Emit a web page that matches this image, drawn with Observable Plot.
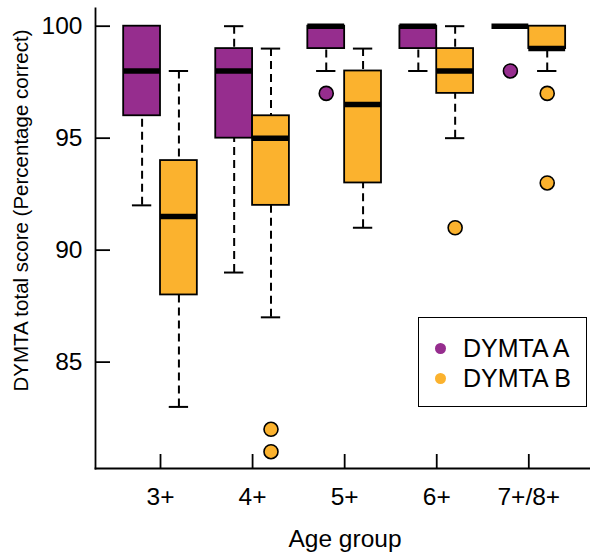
<!DOCTYPE html>
<html>
<head>
<meta charset="utf-8">
<script src="https://cdn.jsdelivr.net/npm/d3@7"></script>
<script src="https://cdn.jsdelivr.net/npm/@observablehq/plot@0.6"></script>
<style>
  body { margin: 0; background: white; }
  #wrap { position: relative; width: 590px; height: 556px; font-family: "Liberation Sans", Arial, sans-serif; }
  #legend { position: absolute; left: 418px; top: 317px; width: 167px; height: 88px; border: 1.8px solid black; background: white; }
  .item { position: absolute; left: 0; height: 30px; display: flex; align-items: center; font-size: 25px; color: black; }
  .sw { width: 11px; height: 11px; border-radius: 50%; margin-left: 16px; margin-right: 17px; }
</style>
</head>
<body>
<div id="wrap"></div>
<script>
// ---- data ----
const groups = ["3+", "4+", "5+", "6+", "7+/8+"];
const seriesNames = ["DYMTA A", "DYMTA B"];
const colors = ["#962D8E", "#FBB22E"];

const aMin = [92, 89, 98, 98, 100];
const aQ1  = [96, 95, 99, 99, 100];
const aMed = [98, 98, 100, 100, 100];
const aQ3  = [100, 99, 100, 100, 100];
const aMax = [100, 100, 100, 100, 100];
const aOutliers = [[], [], [97], [], [98]];

const bMin = [83, 87, 91, 95, 98];
const bQ1  = [88, 92, 93, 97, 99];
const bMed = [91.5, 95, 96.5, 98, 99];
const bQ3  = [94, 96, 98, 99, 100];
const bMax = [98, 99, 99, 100, 100];
const bOutliers = [[], [82, 81], [], [91], [97, 93]];

const yTicks = [85, 90, 95, 100];

// ---- build tables ----
const boxes = [];
const outliers = [];
const stats = [[aMin, aQ1, aMed, aQ3, aMax, aOutliers], [bMin, bQ1, bMed, bQ3, bMax, bOutliers]];
stats.forEach(([mn, q1, md, q3, mx, out], s) => {
  groups.forEach((g, i) => {
    const c = i + (s === 0 ? -0.2 : 0.2);
    boxes.push({series: seriesNames[s], s, i, c, min: mn[i], q1: q1[i], med: md[i], q3: q3[i], max: mx[i]});
    out[i].forEach(v => outliers.push({series: seriesNames[s], s, c, v}));
  });
});

const half = 0.2;    // half box width (index units)
const cap = 0.105;   // half whisker-cap width

const whiskers = [];
boxes.forEach(b => {
  if (b.max > b.q3) whiskers.push({c: b.c, from: b.max, to: b.q3});
  if (b.min < b.q1) whiskers.push({c: b.c, from: b.min, to: b.q1});
});
const caps = [];
boxes.forEach(b => { caps.push({c: b.c, v: b.max}); caps.push({c: b.c, v: b.min}); });

const colorOf = d => colors[d.s];

const chart = Plot.plot({
  width: 590,
  height: 556,
  marginLeft: 95,
  marginRight: 0,
  marginTop: 8,
  marginBottom: 88,
  x: {type: "linear", domain: [-0.706, 4.67]},
  y: {domain: [80.25, 100.79]},
  style: {fontFamily: "'Liberation Sans', Arial, sans-serif", fontSize: "24px", color: "black", background: "white"},
  marks: [
    Plot.frame({anchor: "left", stroke: "black", strokeWidth: 1.8}),
    Plot.frame({anchor: "bottom", stroke: "black", strokeWidth: 1.8}),
    Plot.tickY(yTicks, {y: d => d, stroke: "black", strokeWidth: 1.8, insetRight: 480}),
    Plot.tickX(d3.range(groups.length), {x: d => d, stroke: "black", strokeWidth: 1.8, insetTop: 446}),
    Plot.axisY({ticks: yTicks, tickSize: 0, tickPadding: 13, label: null, fontSize: 24.5}),
    Plot.axisX({ticks: d3.range(groups.length), tickFormat: i => groups[i], tickSize: 0, tickPadding: 19, label: null, fontSize: 24.5}),
    Plot.text(["DYMTA total score (Percentage correct)"], {frameAnchor: "left", textAnchor: "middle", rotate: -90, dx: -74, dy: -28, fontSize: 20.5, lineAnchor: "middle"}),
    Plot.text(["Age group"], {frameAnchor: "bottom", textAnchor: "middle", dx: 2, dy: 71, fontSize: 24.5, lineAnchor: "middle"}),
    // whiskers (dashed, from extreme to box)
    Plot.ruleX(whiskers, {x: "c", y1: "from", y2: "to", stroke: "black", strokeWidth: 2, strokeDasharray: "8,5"}),
    // caps
    Plot.ruleY(caps, {y: "v", x1: d => d.c - cap, x2: d => d.c + cap, stroke: "black", strokeWidth: 2}),
    // boxes
    Plot.rect(boxes, {x1: d => d.c - half, x2: d => d.c + half, y1: "q1", y2: "q3", fill: colorOf, stroke: "black", strokeWidth: 1.8}),
    // medians
    Plot.ruleY(boxes, {y: "med", x1: d => d.c - half, x2: d => d.c + half, stroke: "black", strokeWidth: 5.5}),
    // outliers
    Plot.dot(outliers, {x: "c", y: "v", r: 7, fill: colorOf, stroke: "black", strokeWidth: 1.6})
  ]
});

const wrap = document.getElementById("wrap");
wrap.appendChild(chart);

const legend = document.createElement("div");
legend.id = "legend";
seriesNames.forEach((name, k) => {
  const item = document.createElement("div");
  item.className = "item";
  item.style.top = (15 + k * 30) + "px";
  const sw = document.createElement("span");
  sw.className = "sw";
  sw.style.background = colors[k];
  item.appendChild(sw);
  const t = document.createElement("span");
  t.textContent = name;
  item.appendChild(t);
  legend.appendChild(item);
});
wrap.appendChild(legend);
</script>
</body>
</html>
